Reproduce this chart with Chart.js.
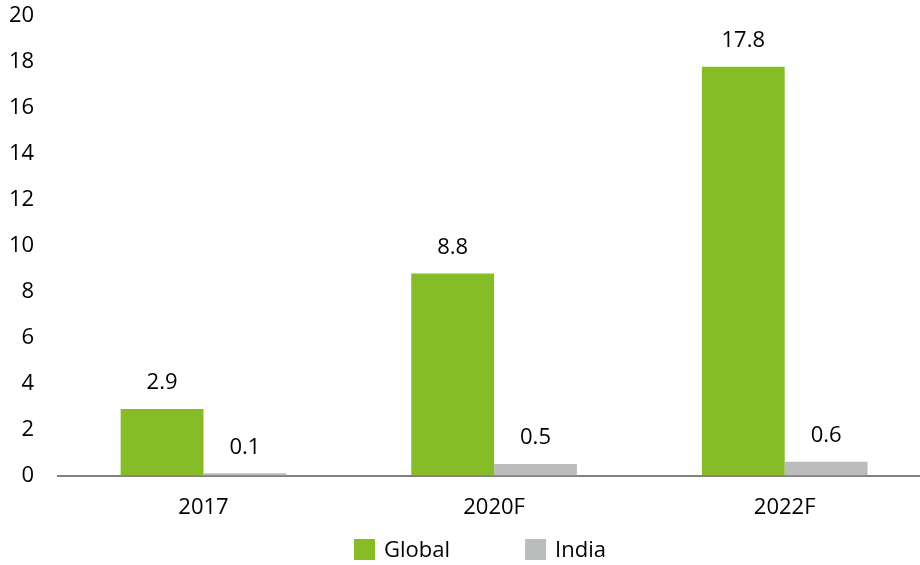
<!DOCTYPE html>
<html>
<head>
<meta charset="utf-8">
<script src="https://cdn.jsdelivr.net/npm/chart.js@4"></script>
<style>
  html, body { margin: 0; padding: 0; background: #fff; overflow: hidden; }
  /* source chart is cut off at the right and sits tight to the top */
  canvas { display: block; margin-top: -13px; }
</style>
</head>
<body>
<canvas id="marketChart" width="930" height="578"></canvas>
<script>
const categories = ['2017', '2020F', '2022F'];
const globalValues = [2.9, 8.8, 17.8];
const indiaValues = [0.1, 0.5, 0.6];
const seriesNames = ['Global', 'India'];

const GREEN = '#86BC25';
const GREY = '#BBBCBC';
const FONT = "'Open Sans', 'Noto Sans', sans-serif";

// value labels above each bar
const barLabels = {
    id: 'barLabels',
    afterDatasetsDraw(chart) {
        const ctx = chart.ctx;
        ctx.save();
        ctx.font = `22px ${FONT}`;
        ctx.fillStyle = '#000';
        ctx.textAlign = 'center';
        ctx.textBaseline = 'middle';
        chart.data.datasets.forEach((ds, i) => {
            chart.getDatasetMeta(i).data.forEach((bar, j) => {
                ctx.fillText(ds.data[j].toFixed(1), bar.x, bar.y - 26);
            });
        });
        ctx.restore();
    }
};

// legend drawn by hand so the gap between the items can be wide
const bottomLegend = {
    id: 'bottomLegend',
    afterDraw(chart) {
        const ctx = chart.ctx;
        ctx.save();
        ctx.font = `22px ${FONT}`;
        ctx.textBaseline = 'middle';
        ctx.textAlign = 'left';
        const box = 21, gap = 9, itemGap = 75;
        const widths = chart.data.datasets.map(ds => box + gap + ctx.measureText(ds.label).width);
        const total = widths.reduce((a, b) => a + b, 0) + itemGap * (widths.length - 1);
        let x = (chart.width - total) / 2 + 15;
        const y = 552;
        chart.data.datasets.forEach((ds, i) => {
            ctx.fillStyle = ds.backgroundColor;
            ctx.fillRect(x, y, box, box);
            ctx.fillStyle = '#000';
            ctx.fillText(ds.label, x + box + gap, y + box / 2 + 1);
            x += widths[i] + itemGap;
        });
        ctx.restore();
    }
};

new Chart(document.getElementById('marketChart'), {
    type: 'bar',
    data: {
        labels: categories,
        datasets: [
            {
                label: seriesNames[0],
                data: globalValues,
                backgroundColor: GREEN,
                categoryPercentage: 0.57,
                barPercentage: 1.0
            },
            {
                label: seriesNames[1],
                data: indiaValues,
                backgroundColor: GREY,
                categoryPercentage: 0.57,
                barPercentage: 1.0
            }
        ]
    },
    options: {
        responsive: false,
        animation: false,
        layout: {
            padding: { left: -7, right: 0, top: -7, bottom: 33 }
        },
        plugins: {
            legend: { display: false },
            tooltip: { enabled: false }
        },
        scales: {
            x: {
                grid: { display: false },
                border: { display: true, color: '#808080', width: 2 },
                ticks: {
                    color: '#000',
                    font: { family: FONT, size: 22 },
                    padding: 11
                }
            },
            y: {
                min: 0,
                max: 20,
                grid: { display: false },
                border: { display: false },
                ticks: {
                    stepSize: 2,
                    color: '#000',
                    font: { family: FONT, size: 22 },
                    padding: 16
                }
            }
        }
    },
    plugins: [barLabels, bottomLegend]
});
</script>
</body>
</html>
